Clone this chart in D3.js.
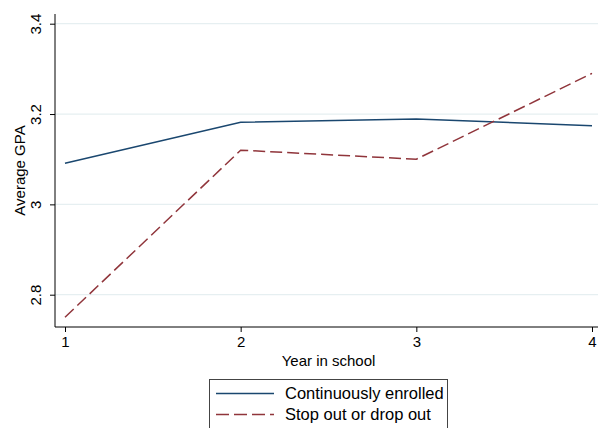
<!DOCTYPE html>
<html><head><meta charset="utf-8">
<script src="https://cdn.jsdelivr.net/npm/d3@7"></script>
<style>body{margin:0;background:#fff}svg{display:block}text{font-family:"Liberation Sans",Arial,sans-serif;fill:#000}</style>
</head><body><svg id="c" width="598" height="428"></svg>
<script>
const years = [1, 2, 3, 4];
const continuous = [3.091, 3.182, 3.189, 3.174];
const dropout = [2.750, 3.120, 3.100, 3.290];
const yTicks = [2.8, 3.0, 3.2, 3.4];
const yTickLabels = ["2.8", "3", "3.2", "3.4"];
const seriesNames = ["Continuously enrolled", "Stop out or drop out"];
const colors = ["#1a476f", "#90353b"];

const svg = d3.select("#c");
const pL = 55, pR = 598, pT = 14, pB = 327;
const x = d3.scaleLinear().domain([1, 4]).range([65, 592]);
const y = d3.scaleLinear().domain([2.8, 3.4]).range([294.7, 23.7]);

// gridlines
svg.append("g").selectAll("line").data(yTicks).join("line")
  .attr("x1", pL).attr("x2", pR)
  .attr("y1", d => y(d)).attr("y2", d => y(d))
  .attr("stroke", "#e6eff1").attr("stroke-width", 1.3);

// y axis
const ya = svg.append("g").attr("transform", `translate(${pL},0)`)
  .call(d3.axisLeft(y).tickValues(yTicks).tickSize(5).tickFormat((d, i) => yTickLabels[i]));
ya.select(".domain").attr("d", `M0,${pT}V${pB}`).attr("stroke", "#000");
ya.selectAll(".tick line").attr("stroke", "#000");
ya.selectAll(".tick text").attr("transform", "rotate(-90)")
  .attr("x", 0).attr("y", -14).attr("dy", 0)
  .attr("text-anchor", "middle").style("font-size", "15px")
  .style("font-family", '"Liberation Sans",Arial,sans-serif');

// x axis
const xa = svg.append("g").attr("transform", `translate(0,${pB})`)
  .call(d3.axisBottom(x).tickValues(years).tickSize(5).tickFormat(d3.format("d")));
xa.select(".domain").attr("d", `M${pL},0H${pR}`).attr("stroke", "#000");
xa.selectAll(".tick line").attr("stroke", "#000");
xa.selectAll(".tick text").attr("y", 20).attr("dy", 0)
  .style("font-size", "15px").style("font-family", '"Liberation Sans",Arial,sans-serif');

// axis titles
svg.append("text").attr("transform", `translate(25,${(pT + pB) / 2}) rotate(-90)`)
  .attr("text-anchor", "middle").style("font-size", "15px").text("Average GPA");
svg.append("text").attr("x", 328.5).attr("y", 366)
  .attr("text-anchor", "middle").style("font-size", "15px").text("Year in school");

// lines
const line = d3.line().x((d, i) => x(years[i])).y(d => y(d));
svg.append("path").datum(continuous).attr("d", line)
  .attr("fill", "none").attr("stroke", colors[0]).attr("stroke-width", 1.5);
svg.append("path").datum(dropout).attr("d", line)
  .attr("fill", "none").attr("stroke", colors[1]).attr("stroke-width", 1.5)
  .attr("stroke-dasharray", "12,5");

// legend
const lg = svg.append("g");
lg.append("rect").attr("x", 209.5).attr("y", 379.5).attr("width", 238).attr("height", 70)
  .attr("fill", "#fff").attr("stroke", "#444").attr("stroke-width", 1);
seriesNames.forEach((n, i) => {
  const yy = 393.5 + i * 21;
  lg.append("line").attr("x1", 216).attr("x2", 274).attr("y1", yy).attr("y2", yy)
    .attr("stroke", colors[i]).attr("stroke-width", 1.5)
    .attr("stroke-dasharray", i === 1 ? "13,5" : null);
  lg.append("text").attr("x", 285).attr("y", yy + 5.5).style("font-size", "16.5px").text(n);
});
</script></body></html>
